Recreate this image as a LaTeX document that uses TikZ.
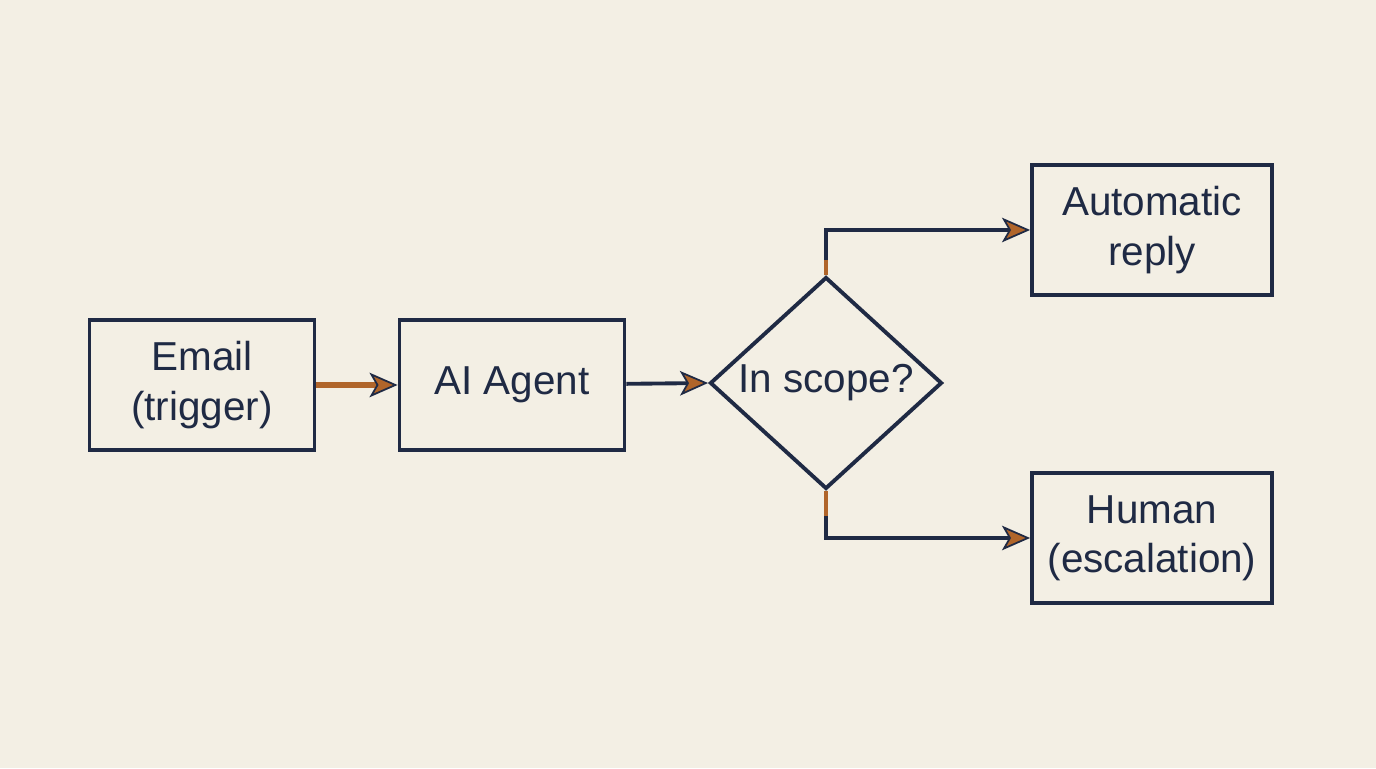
\documentclass[tikz,border=0pt]{standalone}
\usepackage{fontspec}
\setmainfont{Liberation Sans}
\usetikzlibrary{shapes.geometric,arrows.meta}
\definecolor{paper}{HTML}{F3EFE4}
\definecolor{ink}{HTML}{1F2A44}
\definecolor{rust}{HTML}{B0652A}
\tikzset{
  box/.style={draw=ink,line width=2.2pt,minimum width=4.5cm,minimum height=2.6cm,align=center,text=ink,font=\fontsize{23}{28}\selectfont},
  flow/.style={draw=ink,line width=2.2pt,-{Stealth[length=16pt,width=14pt,inset=4pt,color=ink,fill=rust,line width=1pt]}},
}
\begin{document}
\begin{tikzpicture}
	\fill[paper] (0,0) rectangle (27.52,15.36);
	\useasboundingbox (0,0) rectangle (27.52,15.36);
	\node[box] (mail) at (4.04, 7.66)     {Email\\(trigger)};
	\node[box] (agent) at (10.24, 7.66)   {AI Agent};
	\node[box,shape=diamond,minimum width=4.64cm,minimum height=3.84cm,inner sep=0pt] (scope) at (16.52, 7.7) {In scope?};
	\node[box,minimum width=4.8cm] (auto) at (23.04, 10.76)  {Automatic\\reply};
	\node[box,minimum width=4.8cm] (human) at (23.04, 4.6)   {Human\\(escalation)};
	\draw[flow,draw=rust,line width=3pt] (mail) -- (agent);
	\draw[flow] (agent) -- (scope.west);
	\draw[flow] (scope.north) |- (auto.west);
	\draw[flow] (scope.south) |- (human.west);
	\draw[rust,line width=2.2pt] (scope.north) -- ++(0,0.3);
	\draw[rust,line width=2.2pt] (scope.south) -- ++(0,-0.5);
\end{tikzpicture}
\end{document}
